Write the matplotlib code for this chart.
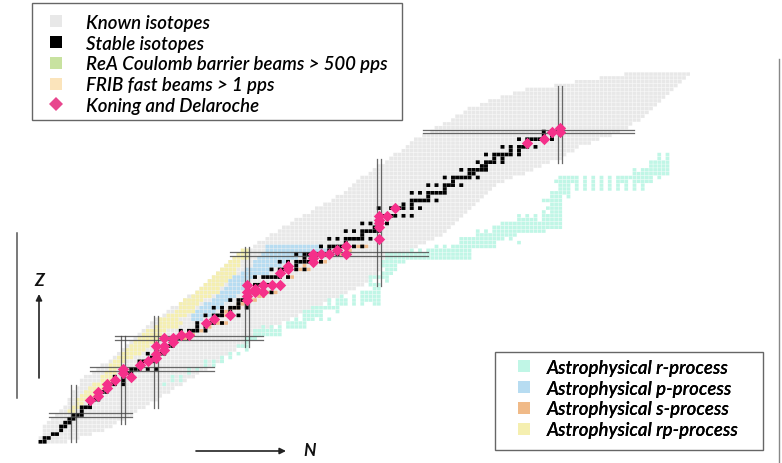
import numpy as np
import matplotlib
matplotlib.use('Agg')
import matplotlib.pyplot as plt
from matplotlib.lines import Line2D
from matplotlib.patches import Rectangle

# known isotopes: first and last N for Z = 1, 2, 3 ...
known_first = [0,0,1,1,1,2,3,4,5,6,7,7,8,8,9,10,10,11,13,14,15,17,18,19,20,21,22,23,24,25,26,27,28,30,31,32,
               34,35,36,38,39,40,41,42,43,44,45,46,47,48,50,52,53,55,56,58,59,61,62,64,66,67,69,71,72,74,75,
               76,77,78,80,81,82,84,85,86,88,89,90,91,93,95,96,98,100,101,103,104,107,109,112,115,118,125,130,136,142]
known_last = [6,9,12,15,17,18,20,22,23,25,26,28,29,31,32,34,35,37,38,40,41,43,44,46,47,49,50,52,53,54,56,58,60,
              62,64,66,68,70,72,74,76,78,79,80,81,82,82,83,85,87,89,91,93,95,97,98,99,100,101,102,103,104,105,
              106,107,108,109,110,112,114,117,119,121,123,126,127,129,130,133,135,138,140,142,143,145,146,147,
              148,149,150,151,152,153,154,155,156,157]

stable_n = {1:[0,1],2:[1,2],3:[3,4],4:[5],5:[5,6],6:[6,7],7:[7,8],8:[8,9,10],9:[10],10:[10,11,12],11:[12],12:[12,13,14],
            13:[14],14:[14,15,16],15:[16],16:[16,17,18,20],17:[18,20],18:[18,20,22],19:[20,21,22],20:[20,22,23,24,26,28],
            21:[24],22:[24,25,26,27,28],23:[27,28],24:[26,28,29,30],25:[30],26:[28,30,31,32],27:[32],28:[30,32,33,34,36],
            29:[34,36],30:[34,36,37,38,40],31:[38,40],32:[38,40,41,42,44],33:[42],34:[40,42,43,44,46,48],35:[44,46],
            36:[42,44,46,47,48,50],37:[48,50],38:[46,48,49,50],39:[50],40:[50,51,52,54,56],41:[52],42:[50,52,53,54,55,56,58],
            44:[52,54,55,56,57,58,60],45:[58],46:[56,58,59,60,62,64],47:[60,62],48:[58,60,62,63,64,65,66,68],49:[64,66],
            50:[62,64,65,66,67,68,69,70,72,74],51:[70,72],52:[68,70,71,72,73,74,76,78],53:[74],54:[70,72,74,75,76,77,78,80,82],
            55:[78],56:[74,76,78,79,80,81,82],57:[81,82],58:[78,80,82,84],59:[82],60:[82,83,84,85,86,88,90],
            62:[82,85,86,87,88,90,92],63:[88,90],64:[90,91,92,93,94,96],65:[94],66:[90,92,94,95,96,97,98],67:[98],
            68:[94,96,98,99,100,102],69:[100],70:[98,100,101,102,103,104,106],71:[104,105],72:[102,104,105,106,107,108],
            73:[107,108],74:[106,108,109,110,112],75:[110,112],76:[108,110,111,112,113,114,116],77:[114,116],
            78:[112,114,116,117,118,120],79:[118],80:[116,118,119,120,121,122,124],81:[122,124],82:[122,124,125,126],83:[126]}

# r-process runs
r_z = [76,76,75,75,74,73,72,72,71,70,70,70,69,69,69,69,69,69,69,
       68,68,68,68,68,68,68,68,68,68,67,67,67,67,67,67,67,67,67,67,
       66,65,65,64,63,62,61,61,60,60,60,60,59,59,58,57,56,56,56,55,54,54,53,53,52,52,52,51,51,51,50,49,48,47,46,45,
       44,43,43,42,41,40,39,39,39,38,38,38,38,37,37,37,37,37,37,36,35,35,34,33,33,33,33,32,31,31,31,31,
       30,29,28,27,26,25,24,24,23,23,22,22,22,22,21,21,20,20,19,18,18,17,17,16,70,70,70,70]
r_first = [150,152,150,152,148,148,144,146,144,126,140,150,125,132,134,136,138,140,144,
           126,130,132,134,136,138,140,142,144,146,126,130,132,134,136,138,140,142,144,146,
           124,124,128,122,124,123,122,124,116,118,120,122,116,122,112,110,106,108,110,106,102,114,102,116,96,98,100,90,92,94,84,84,83,83,84,83,
           80,80,84,80,81,78,73,76,78,70,72,76,78,70,72,76,78,81,81,66,64,72,64,62,64,68,70,60,54,56,58,60,
           52,52,50,50,48,50,46,48,44,46,44,40,42,44,40,42,36,38,36,32,34,32,34,30,132,134,136,138]
r_last = [150,152,150,152,152,152,144,152,152,130,148,150,130,132,134,136,138,142,148,
          128,130,132,134,136,138,140,142,144,146,128,130,132,134,136,138,140,142,144,146,
          128,126,128,126,126,126,122,126,116,118,120,126,120,126,126,126,106,108,122,115,112,114,110,116,96,98,110,90,92,104,104,104,88,86,86,85,
          84,80,84,82,82,82,73,76,82,70,74,76,82,70,74,76,78,78,82,72,68,72,68,62,66,68,70,64,54,56,58,64,
          58,58,52,50,50,50,46,48,44,46,44,40,42,44,40,42,36,38,36,32,34,32,34,30,132,134,136,138]

# p-process, rp-process: first and last N per Z
p_z = list(range(33, 53))
p_first = [37,37,38,39,40,42,43,44,45,46,46,47,49,50,52,52,53,54,55,55]
p_last = [39,41,42,43,44,46,47,48,50,50,50,51,55,56,58,60,62,65,70,68]
rp_z = list(range(9, 52))
rp_first = [7,8,9,9,10,11,12,13,15,15,16,17,17,18,19,20,21,22,23,24,25,26,28,29,29,31,33,34,34,35,37,38,39,40,41,42,43,44,45,46,47,48,49]
rp_last = [8,9,10,11,13,13,15,16,17,18,18,18,19,20,22,24,25,26,28,28,29,30,33,34,33,35,37,37,38,39,41,43,43,44,45,46,47,47,48,48,50,50,50]

s_n = [35,35,37,39,41,43,44,45,44,45,45,46,47,48,48,49,51,52,53,54,55,56,57,60,61,63,64,65,68,69,69,73,75,77,78,79]
s_z = [28,29,29,30,31,32,32,32,34,34,35,36,36,36,37,37,38,38,39,39,40,40,40,44,44,46,47,46,48,48,50,50,51,52,52,52]

kd_n = [12,14,14,16,16,18,20,20,22,24,26,28,28,28,30,30,30,32,32,34,36,40,42,46,50,50,50,50,52,52,54,54,56,58,58,60,60,
        66,66,66,68,70,72,74,74,82,82,82,82,82,84,86,118,122,124,126,126]
kd_z = [12,14,13,16,15,17,20,19,18,21,22,23,24,26,25,26,28,27,28,29,29,32,33,34,42,40,39,38,41,40,42,40,42,42,45,47,46,
        50,49,48,50,50,51,52,50,54,57,58,59,60,60,62,79,80,82,82,83]

magic_n = [8,20,28,50,82,126]
magic_n_zrange = [(0.9,15.8),(5.6,28.6),(9.8,33.8),(25.7,51.9),(41.7,74.8),(73.8,93.9)]
magic_z = [8,20,28,50,82]
magic_z_nrange = [(2,22.2),(12,42),(18,54),(46,94),(92.7,144)]

legend1_labels = ['Known isotopes','Stable isotopes','ReA Coulomb barrier beams > 500 pps','FRIB fast beams > 1 pps','Koning and Delaroche']
legend2_labels = ['Astrophysical r-process','Astrophysical p-process','Astrophysical s-process','Astrophysical rp-process']

plt.rcParams['font.family'] = 'Lato'
W, H = 782, 464
fig = plt.figure(figsize=(W/100, H/100), dpi=100)
ax = fig.add_axes([0, 0, 1, 1])
ax.set_xlim(-9.82, 179.76)
ax.set_ylim(-4.54, 116.6)
ax.axis('off')

GRAY, BLACK, GREEN, CREAM, PINK = '#e8e8e8', '#000000', '#c8e2a0', '#fbe4bb', '#f5308a'
RCOL, PCOL, SCOL, RPCOL = '#c0f6e6', '#b7dcf1', '#f0ba88', '#f5efb0'

def cells(ns, zs, color, size=0.9, zorder=1):
    ns = np.asarray(ns, dtype=float)
    zs = np.asarray(zs, dtype=float)
    bars = ax.bar(ns, size, size, zs-size/2, color=color, linewidth=0, zorder=zorder)
    for b in bars:
        b.set_snap(False)

def runs(zs, first, last):
    ns, out = [], []
    for z, a, b in zip(zs, first, last):
        for n in range(a, b+1):
            ns.append(n)
            out.append(z)
    return ns, out

cells(*runs(range(1, len(known_first)+1), known_first, known_last), GRAY)
cells(*runs(rp_z, rp_first, rp_last), RPCOL, zorder=2)
cells(*runs(p_z, p_first, p_last), PCOL, zorder=2.1)
cells(s_n, s_z, SCOL, zorder=2.2)
cells(*runs(r_z, r_first, r_last), RCOL, zorder=2.3)
st_n = [n for z in stable_n for n in stable_n[z]]
st_z = [z for z in stable_n for n in stable_n[z]]
cells(st_n, st_z, BLACK, size=0.95, zorder=3)

for n, (z0, z1) in zip(magic_n, magic_n_zrange):
    for off in (-0.5, 0.5):
        ax.plot([n+off, n+off], [z0, z1], color='#444444', lw=0.9, alpha=0.8, zorder=4)
for z, (n0, n1) in zip(magic_z, magic_z_nrange):
    for off in (-0.5, 0.5):
        ax.plot([n0, n1], [z+off, z+off], color='#444444', lw=0.9, alpha=0.8, zorder=4)

ax.scatter(kd_n, kd_z, marker='D', s=34, color=PINK, linewidth=0, zorder=5)

def handle(color, marker='s', size=8.2):
    return Line2D([], [], linestyle='none', marker=marker, color=color, markersize=size, markeredgewidth=0)

def box(handles, labels, rect, anchor, handle_len, text_pad):
    x0, y0, x1, y1 = rect
    ax.add_patch(Rectangle((x0/W, 1-y1/H), (x1-x0)/W, (y1-y0)/H, transform=fig.transFigure, facecolor='white',
                           edgecolor='#666666', lw=1.0, zorder=9))
    leg = ax.legend(handles, labels, loc='upper left', bbox_to_anchor=anchor, bbox_transform=fig.transFigure,
                    frameon=False, borderaxespad=0, borderpad=0,
                    handletextpad=text_pad, labelspacing=0.2, handlelength=handle_len,
                    prop={'family': 'Lato', 'style': 'italic', 'weight': 'semibold', 'size': 13.4})
    leg.set_zorder(10)
    ax.add_artist(leg)
    return leg

box([handle(GRAY), handle(BLACK), handle(GREEN), handle(CREAM), handle('#e8468e', 'D', 7.2)], legend1_labels,
    (32, 4, 402, 121), (44/W, 1-15/H), 1.3, 0.98)
box([handle(RCOL), handle(PCOL), handle(SCOL), handle(RPCOL)], legend2_labels,
    (495, 353, 763, 451), (512/W, 1-360/H), 1.3, 0.58)

def fx(x):
    return x/W

def fy(y):
    return 1-y/H

fig.add_artist(Line2D([fx(17), fx(17)], [fy(234), fy(399)], color='#555555', lw=1.1))
fig.add_artist(Line2D([fx(779), fx(779)], [fy(60), fy(464)], color='#888888', lw=1.0))
ax.annotate('', xy=(fx(39), fy(295)), xytext=(fx(39), fy(379)), xycoords='figure fraction',
            arrowprops=dict(arrowstyle='-|>', color='#222222', lw=1.2, shrinkA=0, shrinkB=0, mutation_scale=9))
ax.annotate('', xy=(fx(286), fy(452)), xytext=(fx(196), fy(452)), xycoords='figure fraction',
            arrowprops=dict(arrowstyle='-|>', color='#222222', lw=1.2, shrinkA=0, shrinkB=0, mutation_scale=9))
fig.text(fx(39), fy(281), 'Z', ha='center', va='center', fontsize=12.5, style='italic', weight='bold', color='#111111')
fig.text(fx(310), fy(451), 'N', ha='center', va='center', fontsize=12.5, style='italic', weight='bold', color='#111111')

fig.savefig('out.png', dpi=100)
